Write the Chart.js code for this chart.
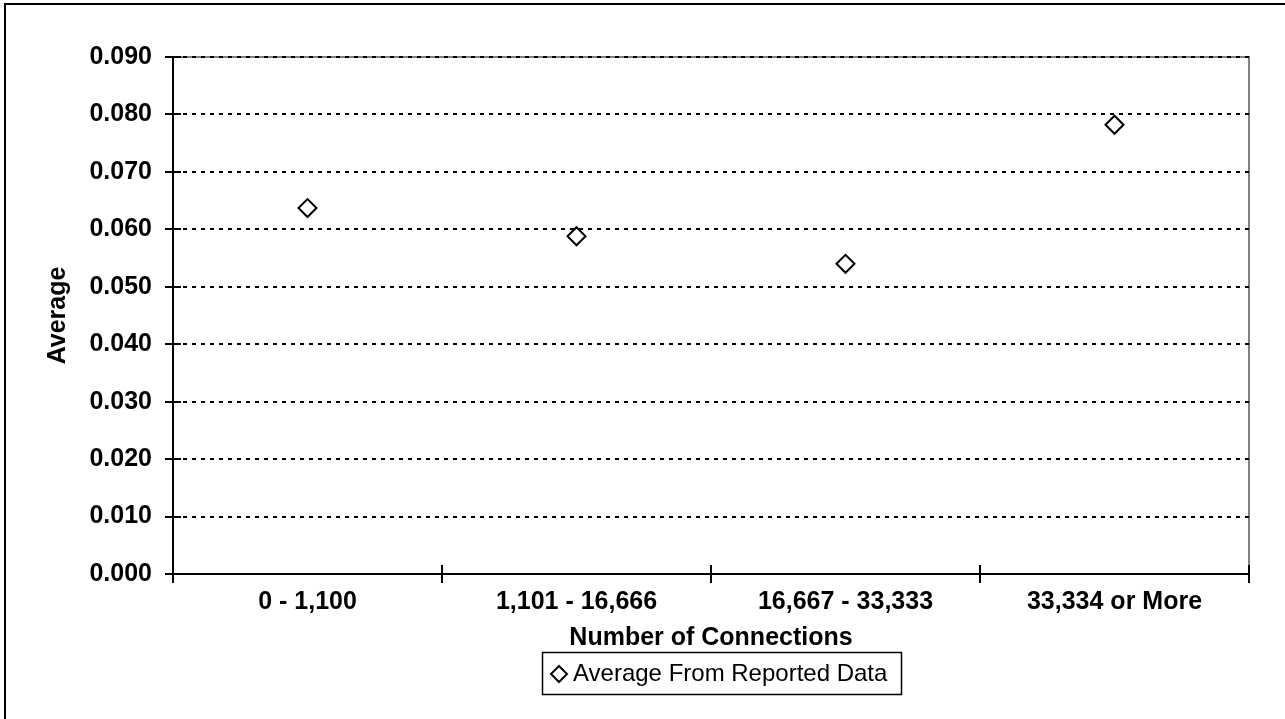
<!DOCTYPE html>
<html>
<head>
<meta charset="utf-8">
<title>Average by Number of Connections</title>
<script src="https://cdn.jsdelivr.net/npm/chart.js@4.4.0/dist/chart.umd.min.js"></script>
<style>
    body { margin: 0; background: #fff; }
    #wrap { position: relative; width: 1285px; height: 719px; }
</style>
</head>
<body>
<div id="wrap"><canvas id="avgChart"></canvas></div>
<script>
// Chart data
const categories = ['0 - 1,100', '1,101 - 16,666', '16,667 - 33,333', '33,334 or More'];
const averageValues = [0.0637, 0.0588, 0.0540, 0.0782];
const seriesLabel = 'Average From Reported Data';
const yTickMin = 0;
const yTickMax = 0.09;
const yTickStep = 0.01;

const FONT = '"Liberation Sans", Arial, sans-serif';

// Frame, plot border, crossing tick marks and the boxed legend
const excelLook = {
    id: 'excelLook',
    beforeDraw(chart) {
        const ctx = chart.ctx;
        const area = chart.chartArea;
        ctx.save();
        ctx.fillStyle = '#fff';
        ctx.fillRect(0, 0, chart.width, chart.height);
        // outer frame (only left and top are visible)
        ctx.strokeStyle = '#000';
        ctx.lineWidth = 2;
        ctx.beginPath();
        ctx.moveTo(5, chart.height);
        ctx.lineTo(5, 4);
        ctx.lineTo(chart.width, 4);
        ctx.stroke();
        // plot area border, top and right
        ctx.strokeStyle = '#808080';
        ctx.beginPath();
        ctx.moveTo(area.left, area.top);
        ctx.lineTo(area.right, area.top);
        ctx.lineTo(area.right, area.bottom);
        ctx.stroke();
        ctx.restore();
    },
    afterDraw(chart) {
        const ctx = chart.ctx;
        const xs = chart.scales.x;
        const ys = chart.scales.y;
        ctx.save();
        ctx.strokeStyle = '#000';
        ctx.lineWidth = 2;
        ctx.beginPath();
        ys.ticks.forEach(t => {
            const y = Math.round(ys.getPixelForValue(t.value));
            ctx.moveTo(xs.left - 8, y);
            ctx.lineTo(xs.left + 8, y);
        });
        for (let i = 0; i <= categories.length; i++) {
            const x = Math.round(xs.getPixelForValue(i - 0.5));
            ctx.moveTo(x, ys.bottom - 9);
            ctx.lineTo(x, ys.bottom + 9);
        }
        ctx.stroke();

        // legend
        ctx.lineWidth = 1.5;
        ctx.strokeRect(542.5, 652.5, 359, 42);
        const cx = 559, cy = 674, r = 8;
        ctx.beginPath();
        ctx.moveTo(cx, cy - r);
        ctx.lineTo(cx + r, cy);
        ctx.lineTo(cx, cy + r);
        ctx.lineTo(cx - r, cy);
        ctx.closePath();
        ctx.fillStyle = '#fff';
        ctx.fill();
        ctx.lineWidth = 2;
        ctx.stroke();
        ctx.fillStyle = '#000';
        ctx.font = '24px ' + FONT;
        ctx.textBaseline = 'middle';
        ctx.textAlign = 'left';
        ctx.fillText(seriesLabel, 573, 674);
        ctx.restore();
    }
};

const ctx = document.getElementById('avgChart').getContext('2d');
new Chart(ctx, {
    type: 'line',
    data: {
        labels: categories,
        datasets: [{
            label: seriesLabel,
            data: averageValues,
            showLine: false,
            pointStyle: 'rectRot',
            pointRadius: 9,
            pointHoverRadius: 9,
            pointBorderWidth: 2,
            pointBorderColor: '#000',
            pointBackgroundColor: '#fff'
        }]
    },
    options: {
        responsive: true,
        maintainAspectRatio: false,
        animation: false,
        layout: {
            padding: { top: 57, right: 36, left: 0, bottom: 0 }
        },
        plugins: {
            legend: { display: false },
            tooltip: { enabled: false }
        },
        scales: {
            x: {
                offset: true,
                grid: { display: false, drawTicks: false },
                border: { display: true, color: '#000', width: 2 },
                ticks: {
                    color: '#000',
                    padding: 13,
                    font: { family: FONT, size: 25, weight: 'bold' }
                },
                title: {
                    display: true,
                    text: 'Number of Connections',
                    color: '#000',
                    padding: { top: 0, bottom: 66 },
                    font: { family: FONT, size: 25, weight: 'bold' }
                },
                afterFit(scale) { scale.height = 145; }
            },
            y: {
                min: yTickMin,
                max: yTickMax,
                grid: {
                    color: '#000',
                    lineWidth: 2,
                    drawTicks: false
                },
                border: { display: true, color: '#000', width: 2, dash: [4, 5] },
                ticks: {
                    stepSize: yTickStep,
                    color: '#000',
                    padding: 21,
                    font: { family: FONT, size: 25, weight: 'bold' },
                    callback: v => Number(v).toFixed(3)
                },
                title: {
                    display: true,
                    text: 'Average',
                    color: '#000',
                    padding: { top: 43, bottom: 0 },
                    font: { family: FONT, size: 25, weight: 'bold' }
                },
                afterFit(scale) { scale.height; scale.width = 173; }
            }
        }
    },
    plugins: [excelLook]
});
</script>
</body>
</html>
